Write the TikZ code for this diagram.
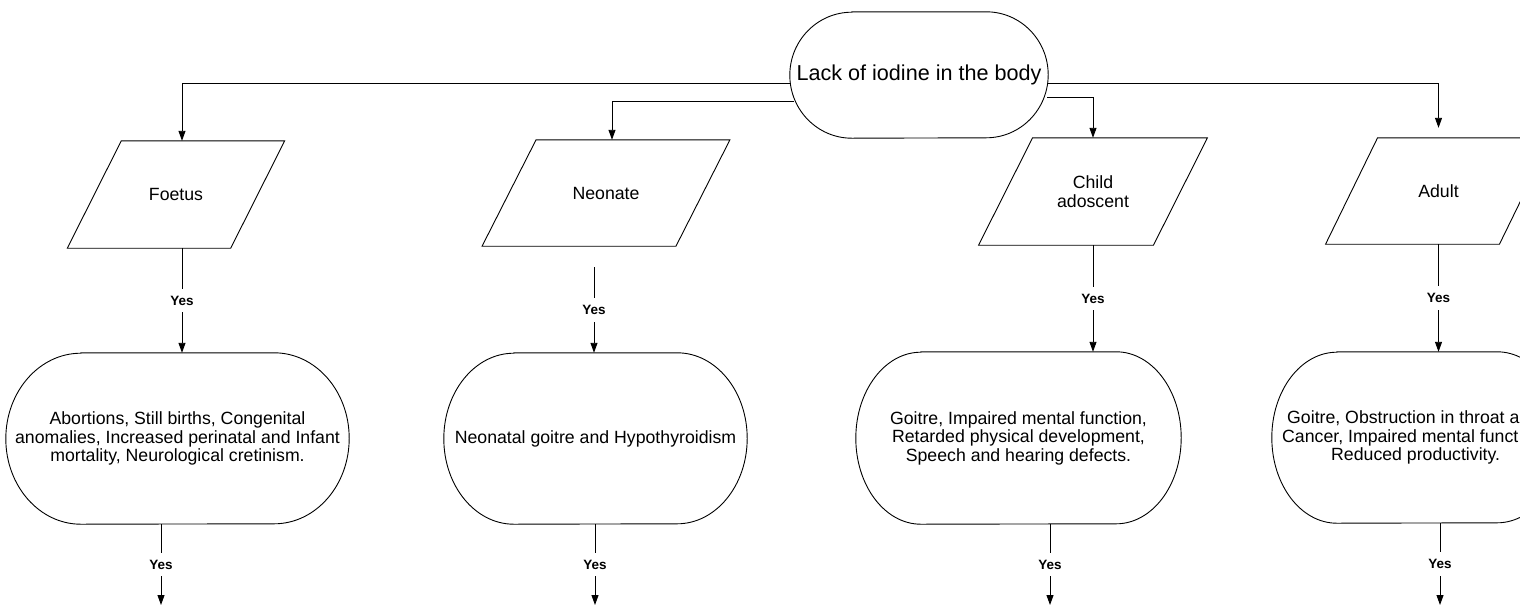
\documentclass[tikz,border=0pt]{standalone}
\usepackage{fontspec}
\setmainfont{Liberation Sans}
\usetikzlibrary{arrows.meta}
\newcommand\termoutline[3]{\draw[line] ([xshift=#2]#1.north west) -- ([xshift=-#2]#1.north east) arc[start angle=90,end angle=-90,x radius=#2,y radius=#3] -- ([xshift=#2]#1.south west) arc[start angle=270,end angle=90,x radius=#2,y radius=#3] -- cycle;}
\newcommand\paraoutline[2]{\draw[line] ([xshift=#2]#1.north west) -- ([xshift=#2]#1.north east) -- ([xshift=-#2]#1.south east) -- ([xshift=-#2]#1.south west) -- cycle;}
\begin{document}
\begin{tikzpicture}[x=1pt,y=-1pt,
  line/.style={line width=0.9pt,black},
  arr/.style={line,-{Triangle[length=10pt,width=7pt]}},
  box/.style={inner sep=0pt,align=center,font=\fontsize{17.7}{18.5}\selectfont},
  yes/.style={fill=white,inner xsep=1pt,inner ysep=7pt,font=\bfseries\fontsize{13.5}{14}\selectfont},
]
\useasboundingbox (0,0) rectangle (1520,606);
\clip (0,0) rectangle (1520,606);
\fill[white] (0,0) rectangle (1520,606);

% top terminator
\node[box,minimum width=258pt,minimum height=126pt,font=\fontsize{21.6}{24}\selectfont] (top) at (919,75) {Lack of iodine in the body};
\termoutline{top}{62pt}{63pt}

% parallelograms
\node[box,minimum width=163pt,minimum height=107pt] (foetus) at (176,194.5) {Foetus};
\paraoutline{foetus}{27pt}
\node[box,minimum width=193.5pt,minimum height=106pt] (neonate) at (606,193) {Neonate};
\paraoutline{neonate}{27pt}
\node[box,minimum width=174.5pt,minimum height=107pt] (child) at (1093,191.5) {Child\\adoscent};
\paraoutline{child}{27pt}
\node[box,minimum width=173.5pt,minimum height=106pt] (adult) at (1438.5,191) {Adult};
\paraoutline{adult}{26pt}

% result terminators
\node[box,minimum width=343pt,minimum height=171pt] (foetusR) at (177.5,438.5) {Abortions, Still births, Congenital\\anomalies, Increased perinatal and Infant\\mortality, Neurological cretinism.};
\termoutline{foetusR}{75pt}{85.5pt}
\node[box,minimum width=303pt,minimum height=171pt] (neonateR) at (595.5,438.5) {Neonatal goitre and Hypothyroidism};
\termoutline{neonateR}{70pt}{85.5pt}
\node[box,minimum width=325pt,minimum height=172pt] (childR) at (1018.5,438) {Goitre, Impaired mental function,\\Retarded physical development,\\Speech and hearing defects.};
\termoutline{childR}{65pt}{86pt}
\node[box,minimum width=290pt,minimum height=171pt] (adultR) at (1417,437.5) {};
\termoutline{adultR}{65pt}{85.5pt}
\node[box,align=left,anchor=west] (adulttext) at (1282,437.5) {\hspace*{5pt}Goitre, Obstruction in throat a\\Cancer, Impaired mental funct\\\hspace*{49pt}Reduced productivity.};

% connectors from top
\draw[arr] ([yshift=-8pt]top.west) -| ([xshift=6pt]foetus.north);
\draw[arr] ([xshift=4pt,yshift=-26pt]top.west) -| ([xshift=6pt]neonate.north);
\draw[arr] ([yshift=-8pt]top.east) -| ([yshift=10pt]adult.north);
\draw[arr] ([xshift=-1pt,yshift=-22pt]top.east) -| (child.north);

% connectors to results
\draw[arr] ([xshift=6pt]foetus.south) -- ([xshift=6pt]foetus.south |- foetusR.north) node[midway,yes] {Yes};
\draw[arr] ([xshift=-12pt,yshift=-21pt]neonate.south) -- ([xshift=-12pt]neonate.south |- neonateR.north) node[midway,yes] {Yes};
\draw[arr] (child.south) -- (child.south |- childR.north) node[midway,yes] {Yes};
\draw[arr] (adult.south) -- (adult.south |- adultR.north) node[midway,yes] {Yes};

% outgoing arrows
\coordinate (f3) at (161,605);
\coordinate (n3) at (595,605);
\coordinate (c3) at (1050,605);
\coordinate (a3) at (1440,605);
\draw[arr] (f3 |- foetusR.south) -- (f3) node[midway,yes] {Yes};
\draw[arr] (n3 |- neonateR.south) -- (n3) node[midway,yes] {Yes};
\draw[arr] (c3 |- childR.south) -- (c3) node[midway,yes] {Yes};
\draw[arr] (a3 |- adultR.south) -- (a3) node[midway,yes] {Yes};
\end{tikzpicture}
\end{document}
